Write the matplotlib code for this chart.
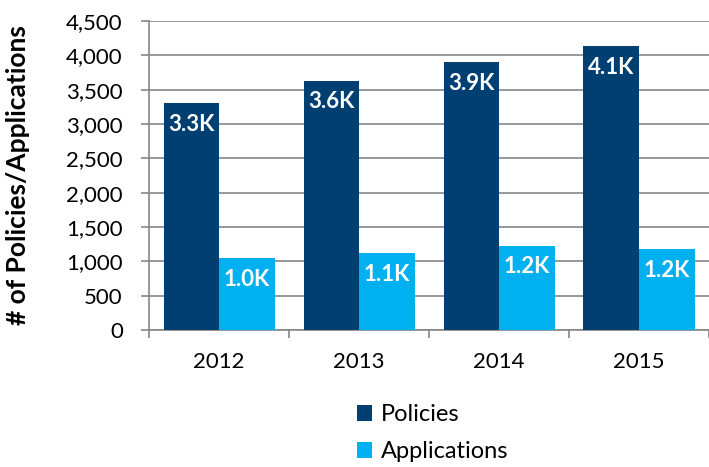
import matplotlib
matplotlib.use("Agg")
import matplotlib.pyplot as plt
import numpy as np

years = ["2012", "2013", "2014", "2015"]
policies = [3300, 3630, 3900, 4130]
applications = [1045, 1115, 1230, 1175]
policy_labels = ["3.3K", "3.6K", "3.9K", "4.1K"]
application_labels = ["1.0K", "1.1K", "1.2K", "1.2K"]

dark_blue = "#003F72"
light_blue = "#00B0F0"
grey = "#868686"

plt.rcParams["font.family"] = ["Lato", "DejaVu Sans"]

fig = plt.figure(figsize=(7.09, 4.67), dpi=100)
ax = fig.add_axes([0.2105, 0.2934, 0.7895, 0.6616])

x = np.arange(len(years))
width = 0.397
b1 = ax.bar(x - width / 2, policies, width, color=dark_blue, label="Policies", zorder=3)
b2 = ax.bar(x + width / 2, applications, width, color=light_blue, label="Applications", zorder=3)

# value labels sit just inside the top of each bar
for bars, texts in ((b1, policy_labels), (b2, application_labels)):
    for rect, t in zip(bars, texts):
        ax.annotate(t, (rect.get_x() + rect.get_width() / 2, rect.get_height()),
                    xytext=(0, -15), textcoords="offset points",
                    ha="center", va="center", color="white",
                    fontsize=16, fontweight="bold", zorder=4)

ax.set_ylim(0, 4500)
ax.set_yticks(np.arange(0, 4501, 500))
ax.set_yticklabels([f"{v:,}" for v in range(0, 4501, 500)])
ax.set_xlim(-0.5, 3.47)

ax.set_xticks(x)
ax.set_xticklabels(years)
ax.set_xticks(np.arange(-0.5, 4, 1), minor=True)
ax.tick_params(axis="x", which="major", length=0, pad=16, labelsize=16)
ax.tick_params(axis="x", which="minor", length=6, color=grey, width=1.2)
ax.tick_params(axis="y", length=6, color=grey, width=1.2, labelsize=16, pad=13)

ax.yaxis.grid(True, color=grey, linewidth=1.2, zorder=0)
for side in ("top", "right"):
    ax.spines[side].set_visible(False)
for side in ("left", "bottom"):
    ax.spines[side].set_color(grey)
    ax.spines[side].set_linewidth(1.2)

ax.set_ylabel("# of Policies/Applications", fontsize=19, fontweight="bold")
ax.yaxis.set_label_coords(-0.213, 0.5)

fig.legend(handles=[b1, b2], loc="upper left", bbox_to_anchor=(0.49, 0.155),
           frameon=False, fontsize=17, handlelength=0.65, handleheight=0.65,
           handletextpad=0.35, labelspacing=0.68, borderaxespad=0)

fig.savefig("out.png", dpi=100)
